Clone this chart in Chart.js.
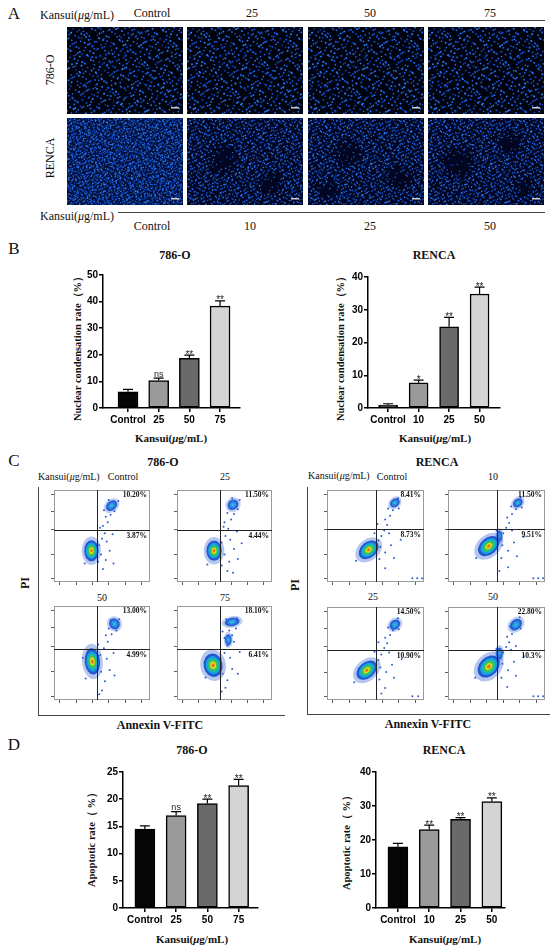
<!DOCTYPE html>
<html>
<head>
<meta charset="utf-8">
<script src="https://cdn.jsdelivr.net/npm/chart.js@4.4.1/dist/chart.umd.min.js"></script>
<style>
  body { margin: 0; width: 550px; height: 948px; position: relative; overflow: hidden; background: #fff;
         font-family: "Liberation Serif", "Times New Roman", serif; color: #111; }
  .t { position: absolute; white-space: nowrap; line-height: 1; transform: translate(-50%, -50%); }
  .l { transform: translate(0, -50%); }
  .r { transform: translate(-50%, -50%) rotate(-90deg); }
  .b { font-weight: bold; }
  .box { position: absolute; }
  .line { position: absolute; background: #444; }
  .photo { position: absolute; }
</style>
</head>
<body>
<script>
// ---- data ----
const labels786 = ['Control', '25', '50', '75'];
const labelsRenca = ['Control', '10', '25', '50'];

// B: nuclear condensation rate (%)
const nucMean786 = [6.1, 10.3, 18.7, 38.3];
const nucErr786 = [0.9, 0.9, 1.2, 2.0];
const nucSig786 = ['', 'ns', '**', '**'];
const nucMeanRenca = [0.9, 7.7, 24.8, 34.8];
const nucErrRenca = [0.4, 0.8, 2.9, 2.1];
const nucSigRenca = ['', '*', '**', '**'];

// D: apoptotic rate (%)
const apoMean786 = [14.5, 17.0, 19.2, 22.5];
const apoErr786 = [0.6, 0.7, 0.8, 1.15];
const apoSig786 = ['', 'ns', '**', '**'];
const apoMeanRenca = [18.0, 23.1, 26.1, 31.3];
const apoErrRenca = [1.0, 1.3, 0.5, 1.1];
const apoSigRenca = ['', '**', '**', '**'];

// C: flow cytometry quadrant percentages
const ur786 = ['10.20%', '11.50%', '13.00%', '18.10%'];
const lr786 = ['3.87%', '4.44%', '4.99%', '6.41%'];
const urRenca = ['8.41%', '11.50%', '14.50%', '22.80%'];
const lrRenca = ['8.73%', '9.51%', '10.90%', '10.3%'];

// gates (plot units 0-10)
const gateX786 = [4.5, 4.5, 4.5, 4.5];
const gateY786 = [5.7, 5.7, 5.4, 5.4];
const gateXRenca = [5.1, 5.1, 5.1, 5.1];
const gateYRenca = [5.8, 5.8, 5.4, 5.4];
const flowXTicks = [0.6, 2.3, 4.0, 5.7, 7.4, 9.1];
const flowYTicks = [0.4, 3.0, 5.7, 7.7, 9.5];

// populations: centre x, centre y, spread x, spread y, tilt (deg)
const live786 = [[3.9, 3.4, 0.75, 1.15, 0], [3.9, 3.4, 0.8, 1.1, 0], [4.0, 4.1, 0.8, 1.4, 5], [3.8, 3.7, 1.0, 1.25, 10]];
const late786 = [
  [[6.0, 8.3, 0.65, 0.5, 40]],
  [[5.9, 8.4, 0.6, 0.55, 40]],
  [[6.3, 8.1, 0.55, 0.6, 40]],
  [[5.8, 8.3, 0.8, 0.45, 10], [5.4, 6.4, 0.35, 0.6, 0]]
];
const liveRenca = [[4.3, 3.5, 1.15, 0.85, 40], [4.2, 3.9, 1.25, 0.9, 40], [4.1, 3.2, 1.2, 0.85, 40], [4.2, 3.6, 1.3, 1.0, 45]];
const lateRenca = [
  [[7.0, 8.6, 0.55, 0.45, 40]],
  [[7.2, 8.6, 0.55, 0.45, 40], [5.3, 5.0, 0.3, 0.6, 0]],
  [[7.0, 8.1, 0.6, 0.5, 40]],
  [[7.0, 8.1, 0.7, 0.55, 40], [5.3, 5.0, 0.35, 0.65, 0]]
];
// scattered events
const tail786 = [
  [[4.7,4.0],[5.0,4.7],[5.3,5.3],[5.1,6.1],[5.6,6.5],[5.4,7.1],[5.9,7.3],[5.2,7.8],[6.3,7.7],[5.7,8.9],[6.7,8.8],[4.9,3.0],[5.4,2.4],[5.8,3.4],[5.1,1.4],[6.2,2.0],[4.6,2.2],[5.5,4.4],[6.1,5.2],[3.2,2.0],[4.8,5.9],[5.9,8.0]],
  [[4.7,4.3],[5.1,5.0],[5.4,5.8],[5.0,6.5],[5.7,6.8],[5.3,7.5],[6.0,7.4],[5.6,8.0],[6.4,7.9],[5.8,9.1],[6.6,8.9],[5.0,3.0],[5.5,2.2],[6.0,3.6],[5.3,1.2],[6.4,2.5],[4.7,1.8],[5.6,4.6],[6.3,5.5],[3.2,1.9],[5.9,1.0],[4.9,6.0],[6.8,4.2]],
  [[4.8,4.8],[5.2,5.5],[5.6,6.2],[5.4,6.9],[6.0,7.0],[5.7,7.6],[6.5,7.4],[5.9,8.5],[6.8,8.6],[4.9,3.0],[5.3,2.0],[5.0,1.0],[4.7,0.6],[5.8,3.2],[6.3,2.6],[3.3,2.3],[5.5,4.4],[6.2,5.0],[4.6,5.9],[3.0,4.5]],
  [[4.6,4.4],[5.0,5.0],[5.3,5.8],[5.0,6.6],[5.8,6.9],[5.5,7.4],[6.2,7.6],[5.2,8.6],[6.3,8.7],[4.8,2.8],[5.3,2.1],[5.8,3.3],[6.4,2.8],[5.1,1.3],[3.0,2.4],[2.9,4.0],[5.6,4.5],[6.6,5.1],[4.7,0.9],[6.0,6.2],[4.8,7.3]]
];
const tailRenca = [
  [[5.3,4.5],[5.6,5.0],[5.9,5.6],[6.2,6.2],[6.0,6.8],[6.5,7.2],[6.8,7.8],[6.3,8.0],[7.4,8.0],[7.3,9.1],[5.5,3.8],[6.0,3.2],[6.6,4.0],[5.4,2.5],[6.9,2.6],[6.0,1.5],[3.0,2.3],[4.9,5.3],[7.6,4.6],[6.4,5.3],[8.8,0.4],[9.3,0.4],[9.8,0.4],[5.2,6.3]],
  [[5.4,4.8],[5.7,5.3],[6.0,5.9],[6.3,6.4],[6.1,7.0],[6.6,7.4],[7.0,7.9],[6.5,8.2],[7.6,8.1],[7.5,9.2],[5.6,4.0],[6.2,3.4],[6.8,4.3],[5.5,2.6],[7.1,2.8],[6.2,1.6],[2.9,2.6],[5.0,5.6],[7.8,4.9],[6.6,5.6],[8.8,0.4],[9.3,0.4],[9.8,0.4],[5.3,1.2]],
  [[5.3,4.3],[5.6,4.9],[5.9,5.6],[6.2,6.1],[6.0,6.7],[6.5,7.0],[6.8,7.5],[6.3,7.8],[7.4,7.6],[7.3,8.8],[5.5,3.5],[6.1,3.0],[6.7,3.8],[5.4,2.2],[6.9,2.4],[6.0,1.3],[5.6,0.7],[2.8,1.9],[4.9,5.2],[7.7,4.4],[6.4,5.1],[8.8,0.4],[9.4,0.4],[5.3,6.2]],
  [[5.4,4.6],[5.7,5.1],[6.0,5.7],[6.3,6.2],[6.1,6.8],[6.6,7.1],[6.9,7.6],[6.4,7.9],[7.5,7.7],[7.4,8.9],[5.6,3.9],[6.2,3.2],[6.8,4.1],[5.5,2.4],[7.0,2.6],[6.1,1.4],[2.8,2.4],[5.0,5.5],[7.8,4.7],[6.5,5.4],[8.8,0.4],[9.3,0.4],[9.8,0.4],[7.0,5.8]]
];

// ---- helpers ----
const KANSUI = 'Kansui(<i>μ</i>g/mL)';
const barFills = ['#050505', '#9a9a9a', '#6a6a6a', '#d4d4d4'];
const hotLayers = [[1.35, 'rgba(45,95,210,0.35)'], [1.0, '#2456d0'], [0.78, '#14a0e0'], [0.6, '#22bfa0'],
                   [0.46, '#3cc43c'], [0.32, '#d6dc2a'], [0.17, '#f07020']];
const coolLayers = [[1.4, 'rgba(45,95,210,0.3)'], [1.0, '#2b5fd6'], [0.6, '#2a90e0'], [0.3, '#30b8d8']];
const nucleusColors = ['#1d6af0', '#1652d4', '#2a7af2', '#0f45b8'];

Chart.defaults.font.family = '"Liberation Sans", Arial, sans-serif';
Chart.defaults.color = '#000';

function put(html, x, y, cls, size) {
  const d = document.createElement('div');
  d.className = 't ' + (cls || '');
  d.style.left = x + 'px';
  d.style.top = y + 'px';
  d.style.fontSize = size + 'px';
  d.innerHTML = html;
  document.body.appendChild(d);
}
function rule(x, y, w, h) {
  const d = document.createElement('div');
  d.className = 'line';
  d.style.cssText = `left:${x}px;top:${y}px;width:${w}px;height:${h}px`;
  document.body.appendChild(d);
}
function mount(x, y, w, h) {
  const d = document.createElement('div');
  d.className = 'box';
  d.style.cssText = `left:${x}px;top:${y}px;width:${w}px;height:${h}px`;
  const c = document.createElement('canvas');
  d.appendChild(c);
  document.body.appendChild(d);
  return c;
}

// stand-in for a micrograph: nuclei laid out on a Halton sequence (deterministic texture)
function halton(i, b) {
  let f = 1, r = 0;
  while (i > 0) { f /= b; r += f * (i % b); i = Math.floor(i / b); }
  return r;
}
function micrograph(x, y, w, h, count, dotR, bg, patches) {
  const c = document.createElement('canvas');
  c.className = 'photo';
  c.width = w * 2; c.height = h * 2;
  c.style.cssText = `left:${x}px;top:${y}px;width:${w}px;height:${h}px`;
  document.body.appendChild(c);
  const ctx = c.getContext('2d');
  ctx.scale(2, 2);
  ctx.fillStyle = bg;
  ctx.fillRect(0, 0, w, h);
  for (let i = 1; i <= count; i++) {
    const px = halton(i, 2) * w, py = halton(i, 3) * h, k = halton(i, 5);
    const hole = patches.some(([cx, cy, r]) => {
      const d = Math.hypot(px - cx, py - cy);
      return d < r && k > d / r * 0.7;
    });
    if (hole) continue;
    ctx.fillStyle = nucleusColors[Math.floor(halton(i, 7) * 4)];
    ctx.beginPath();
    ctx.arc(px, py, dotR + k * 0.35, 0, 2 * Math.PI);
    ctx.fill();
  }
  ctx.fillStyle = '#cfcfcf';
  ctx.fillRect(w - 12, h - 7, 8, 1.5);
}

// bar chart with upper error bars and significance marks
function barChart(area, labels, mean, err, sig, yMax, yStep, xMin, xMax, thick) {
  const pad = { l: 45, t: 10, r: 6, b: 24 };
  const cv = mount(area.left - pad.l, area.top - pad.t,
                   area.right - area.left + pad.l + pad.r, area.bottom - area.top + pad.t + pad.b);
  const axisGrid = { display: true, drawOnChartArea: false, drawTicks: true, tickLength: 4, color: '#000', lineWidth: 1.5, offset: false };
  const errPlugin = {
    id: 'errBars',
    afterDatasetsDraw(chart) {
      const { ctx } = chart;
      const y = chart.scales.y;
      ctx.save();
      ctx.strokeStyle = '#000';
      ctx.lineWidth = 1.2;
      chart.getDatasetMeta(0).data.forEach((bar, i) => {
        const top = y.getPixelForValue(mean[i] + err[i]);
        ctx.beginPath();
        ctx.moveTo(bar.x, bar.y);
        ctx.lineTo(bar.x, top);
        ctx.moveTo(bar.x - 5, top);
        ctx.lineTo(bar.x + 5, top);
        ctx.stroke();
        if (sig[i]) {
          ctx.fillStyle = '#222';
          ctx.textAlign = 'center';
          ctx.textBaseline = 'alphabetic';
          const star = sig[i].includes('*');
          ctx.font = (star ? '10px' : '9px') + ' "Liberation Sans", Arial, sans-serif';
          ctx.fillText(sig[i], bar.x, star ? top + 2.5 : top - 1.5);
        }
      });
      ctx.restore();
    }
  };
  new Chart(cv, {
    type: 'bar',
    data: {
      datasets: [{
        data: mean.map((v, i) => ({ x: i, y: v })),
        backgroundColor: barFills,
        borderColor: '#000',
        borderWidth: 1.5,
        borderSkipped: false,
        barThickness: thick
      }]
    },
    options: {
      animation: false,
      responsive: true,
      maintainAspectRatio: false,
      layout: { padding: { top: pad.t, right: pad.r, left: 0, bottom: 0 } },
      plugins: { legend: { display: false }, tooltip: { enabled: false } },
      scales: {
        x: {
          type: 'linear', min: xMin, max: xMax, offset: false,
          grid: axisGrid,
          border: { display: true, color: '#000', width: 1.5 },
          afterBuildTicks: s => { s.ticks = labels.map((_, i) => ({ value: i })); },
          ticks: { callback: v => labels[v], autoSkip: false, maxRotation: 0, padding: 2,
                   font: { size: 10, weight: 'bold' } },
          afterFit: s => { s.height = pad.b; }
        },
        y: {
          min: 0, max: yMax,
          grid: axisGrid,
          border: { display: true, color: '#000', width: 1.5 },
          ticks: { stepSize: yStep, padding: 1, font: { size: 10, weight: 'bold' } },
          afterFit: s => { s.width = pad.l; }
        }
      }
    },
    plugins: [errPlugin]
  });
}

// flow cytometry dot plot (Annexin V-FITC vs PI)
function flowChart(box, tail, live, late, gx, gy, ur, lr) {
  const cv = mount(box.x - 4, box.y - 1, box.w + 5, box.h + 5);
  const blob = (ctx, x, y, c, layers) => {
    const cx = x.getPixelForValue(c[0]), cy = y.getPixelForValue(c[1]);
    const rx = Math.abs(x.getPixelForValue(c[0] + c[2]) - cx);
    const ry = Math.abs(y.getPixelForValue(c[1] + c[3]) - cy);
    layers.forEach(([f, col]) => {
      ctx.fillStyle = col;
      ctx.beginPath();
      ctx.ellipse(cx, cy, rx * f, ry * f, -c[4] * Math.PI / 180, 0, 2 * Math.PI);
      ctx.fill();
    });
  };
  const flowPlugin = {
    id: 'flow',
    afterDatasetsDraw(chart) {
      const { ctx, chartArea: a } = chart;
      const { x, y } = chart.scales;
      ctx.save();
      ctx.beginPath();
      ctx.rect(a.left, a.top, a.width, a.height);
      ctx.clip();
      late.forEach(c => blob(ctx, x, y, c, coolLayers));
      blob(ctx, x, y, live, hotLayers);
      ctx.restore();
      ctx.save();
      ctx.strokeStyle = '#9a9a9a';
      ctx.lineWidth = 1;
      ctx.strokeRect(a.left + 0.5, a.top + 0.5, a.width - 1, a.height - 1);
      const px = Math.round(x.getPixelForValue(gx)) + 0.5;
      const py = Math.round(y.getPixelForValue(gy)) + 0.5;
      ctx.strokeStyle = '#222';
      ctx.beginPath();
      ctx.moveTo(px, a.top); ctx.lineTo(px, a.bottom);
      ctx.moveTo(a.left, py); ctx.lineTo(a.right, py);
      ctx.stroke();
      ctx.fillStyle = '#111';
      ctx.font = 'bold 7.5px "Liberation Serif", serif';
      ctx.textAlign = 'right';
      ctx.textBaseline = 'middle';
      ctx.fillText(ur, a.right - 3, a.top + 5);
      ctx.fillText(lr, a.right - 3, py + 6);
      ctx.restore();
    }
  };
  const tickGrid = { display: true, drawOnChartArea: false, drawTicks: true, tickLength: 3, color: '#333', lineWidth: 0.8 };
  new Chart(cv, {
    type: 'scatter',
    data: {
      datasets: [{
        data: tail.map(p => ({ x: p[0], y: p[1] })),
        pointRadius: 1,
        pointBorderWidth: 0,
        pointBackgroundColor: '#2d5fd2'
      }]
    },
    options: {
      animation: false,
      responsive: true,
      maintainAspectRatio: false,
      layout: { padding: { top: 1, right: 1, left: 0, bottom: 0 } },
      plugins: { legend: { display: false }, tooltip: { enabled: false } },
      scales: {
        x: { type: 'linear', min: 0, max: 10, grid: tickGrid, border: { display: false },
             afterBuildTicks: s => { s.ticks = flowXTicks.map(v => ({ value: v })); },
             ticks: { display: false }, afterFit: s => { s.height = 4; } },
        y: { type: 'linear', min: 0, max: 10, grid: tickGrid, border: { display: false },
             afterBuildTicks: s => { s.ticks = flowYTicks.map(v => ({ value: v })); },
             ticks: { display: false }, afterFit: s => { s.width = 4; } }
      }
    },
    plugins: [flowPlugin]
  });
}

// ---- panel A: Hoechst staining images ----
put('A', 14, 13, '', 17);
put(KANSUI, 40, 15, 'l', 12);
rule(118, 20, 427, 1);
[152, 252, 370, 490].forEach((x, i) => put(labels786[i], x, 13, '', 12));
put('786-O', 50, 70, 'r', 12);
put('RENCA', 50, 158, 'r', 12);
const imgCols = [67, 187, 308, 428];
const rencaPatches = [[], [[35, 40, 16], [85, 65, 12]], [[40, 35, 15], [90, 60, 13], [20, 72, 10]], [[30, 45, 18], [82, 25, 12], [96, 70, 10]]];
imgCols.forEach((x, i) => {
  micrograph(x, 27, 116, 87, 620, 0.75, '#01030e', []);
  if (i === 0) micrograph(x, 118, 116, 87, 1900, 0.6, '#03103a', []);
  else micrograph(x, 118, 116, 87, 1250, 0.6, '#020620', rencaPatches[i]);
});
rule(118, 212, 427, 1);
put(KANSUI, 40, 216, 'l', 12);
[152, 250, 370, 490].forEach((x, i) => put(labelsRenca[i], x, 226, '', 12));

// ---- panel B: nuclear condensation ----
put('B', 14, 248, '', 17);
put('786-O', 175, 255, 'b', 12);
put('RENCA', 434, 255, 'b', 12);
put('Nuclear condensation rate（%）', 78, 346, 'r b', 10.5);
put('Nuclear condensation rate（%）', 341, 346, 'r b', 10.5);
put(KANSUI, 171, 438, 'b', 11);
put(KANSUI, 435, 438, 'b', 11);
barChart({ left: 103, top: 275, right: 240, bottom: 408 }, labels786, nucMean786, nucErr786, nucSig786, 50, 10, -0.815, 3.65, 20);
barChart({ left: 368, top: 277, right: 500, bottom: 408 }, labelsRenca, nucMeanRenca, nucErrRenca, nucSigRenca, 40, 10, -0.66, 3.67, 19);

// ---- panel C: Annexin V-FITC / PI ----
put('C', 14, 460, '', 17);
put('786-O', 163, 462, 'b', 12);
put('RENCA', 437, 462, 'b', 12);
put(KANSUI, 38, 477, 'l', 10);
put(KANSUI, 308, 476, 'l', 10);
[[123, 477], [225, 477], [102, 598], [225, 598]].forEach(([x, y], i) => put(labels786[i], x, y, '', 10));
[[392, 477], [493, 477], [373, 597], [493, 597]].forEach(([x, y], i) => put(labelsRenca[i], x, y, '', 10));
rule(38, 487, 1, 228);
rule(38, 715, 247, 1);
rule(307, 487, 1, 227);
rule(307, 714, 243, 1);
put('PI', 25, 583, 'r b', 12);
put('PI', 295, 585, 'r b', 12);
put('Annexin V-FITC', 160, 725, 'b', 12);
put('Annexin V-FITC', 428, 724, 'b', 12);
const boxes786 = [{ x: 54, y: 487, w: 99, h: 95 }, { x: 177, y: 487, w: 98, h: 95 },
                  { x: 54, y: 603, w: 99, h: 97 }, { x: 177, y: 603, w: 98, h: 97 }];
const boxesRenca = [{ x: 327, y: 487, w: 100, h: 95 }, { x: 448, y: 487, w: 100, h: 95 },
                    { x: 327, y: 604, w: 100, h: 96 }, { x: 448, y: 604, w: 100, h: 96 }];
boxes786.forEach((b, i) => flowChart(b, tail786[i], live786[i], late786[i], gateX786[i], gateY786[i], ur786[i], lr786[i]));
boxesRenca.forEach((b, i) => flowChart(b, tailRenca[i], liveRenca[i], lateRenca[i], gateXRenca[i], gateYRenca[i], urRenca[i], lrRenca[i]));

// ---- panel D: apoptotic rate ----
put('D', 14, 744, '', 17);
put('786-O', 192, 750, 'b', 12);
put('RENCA', 444, 750, 'b', 12);
put('Apoptotic rate（ %）', 92, 837, 'r b', 10.5);
put('Apoptotic rate（ %）', 347, 840, 'r b', 10.5);
put(KANSUI, 192, 939, 'b', 11);
put(KANSUI, 445, 939, 'b', 11);
barChart({ left: 123, top: 772, right: 258, bottom: 908 }, labels786, apoMean786, apoErr786, apoSig786, 25, 5, -0.7, 3.62, 20);
barChart({ left: 376, top: 772, right: 505, bottom: 908 }, labelsRenca, apoMeanRenca, apoErrRenca, apoSigRenca, 40, 10, -0.7, 3.42, 20);
</script>
</body>
</html>
